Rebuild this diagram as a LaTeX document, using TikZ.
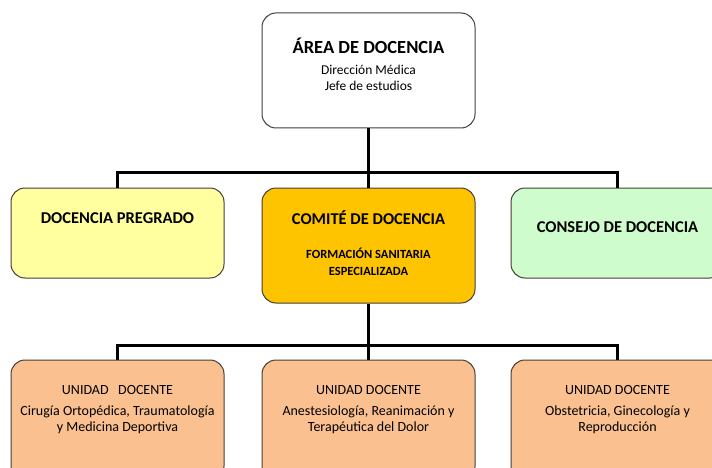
\documentclass[tikz,border=0pt]{standalone}
\usepackage{fontspec}
\setmainfont{Carlito}
\usetikzlibrary{positioning}
\definecolor{pregradofill}{RGB}{255,255,160}
\definecolor{comitefill}{RGB}{255,196,0}
\definecolor{consejofill}{RGB}{206,252,204}
\definecolor{unidadfill}{RGB}{250,192,144}
\definecolor{boxline}{RGB}{70,62,55}

\begin{document}
\begin{tikzpicture}[x=1pt, y=-1pt,
orgbox/.style={draw=boxline, line width=1pt, rounded corners=14pt, minimum width=213pt, inner sep=0pt, align=center},
areabox/.style={orgbox, fill=white, minimum height=115pt, text height=50pt, text depth=10pt, font=\fontsize{13.5}{16}\selectfont},
rowbox/.style={orgbox, minimum height=90pt, text height=12pt, font=\fontsize{16.5}{18}\selectfont\bfseries},
comitebox/.style={orgbox, fill=comitefill, minimum height=115pt, text height=69pt, text depth=10pt, font=\fontsize{12.5}{17}\selectfont\bfseries},
unidadbox/.style={orgbox, fill=unidadfill, minimum height=120pt, text height=33pt, text depth=10pt, font=\fontsize{14}{16.5}\selectfont},
conn/.style={draw=black, line width=2.6pt}
]
    \fill[white] (0,0) rectangle (712,468);
    \clip (0,0) rectangle (712,468);

    %Nodes
    \node[areabox]
        (area)      at (368.5,70.5)     {{\fontsize{18.5}{20}\selectfont\bfseries ÁREA DE DOCENCIA}\\[4.5pt]
                                         Dirección Médica\\ Jefe de estudios};
    \node[comitebox]
        (comite)    [below=59pt of area]  {{\fontsize{16.5}{18}\selectfont COMITÉ DE DOCENCIA}\\[16.7pt]
                                         FORMACIÓN SANITARIA\\ ESPECIALIZADA};
    \node[rowbox, fill=pregradofill, text depth=31.4pt]
        (pregrado)  [left=37pt of comite.north west, anchor=north east]  {DOCENCIA PREGRADO};
    \node[rowbox, fill=consejofill, text depth=13.4pt]
        (consejo)   [right=35pt of comite.north east, anchor=north west] {CONSEJO DE DOCENCIA};
    \node[unidadbox]
        (unidadb)   [below=56pt of comite]  {UNIDAD DOCENTE\\[4pt]
                                         Anestesiología, Reanimación y\\ Terapéutica del Dolor};
    \node[unidadbox]
        (unidada)   [left=37pt of unidadb]  {UNIDAD~~~DOCENTE\\[4pt]
                                         Cirugía Ortopédica, Traumatología\\ y Medicina Deportiva};
    \node[unidadbox]
        (unidadc)   [right=35pt of unidadb] {UNIDAD DOCENTE\\[4pt]
                                         Obstetricia, Ginecología y\\ Reproducción};

    %Lines
    \draw[conn] (area.south) -- (comite.north);
    \draw[conn] (pregrado.north) -- ++(0,-15) -| (consejo.north);
    \draw[conn] (comite.south) -- (unidadb.north);
    \draw[conn] (unidada.north) -- ++(0,-14) -| (unidadc.north);
\end{tikzpicture}
\end{document}
